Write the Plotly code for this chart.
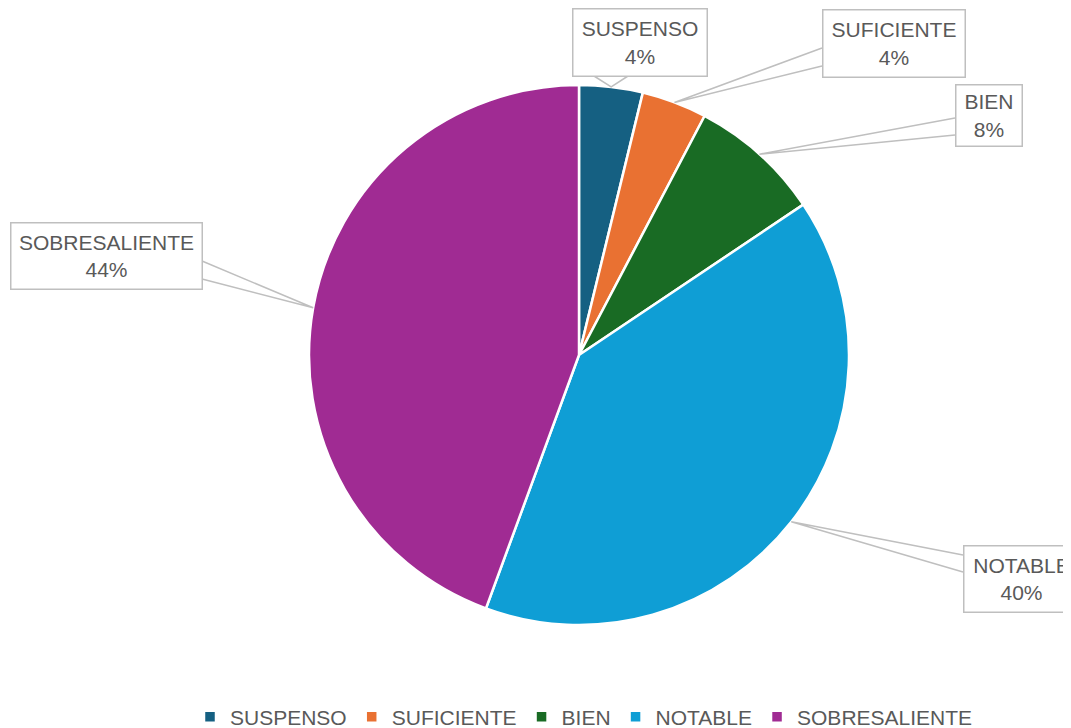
import math
import plotly.graph_objects as go

# data (shares in %)
labels = ["SUSPENSO", "SUFICIENTE", "BIEN", "NOTABLE", "SOBRESALIENTE"]
shares = [3.8, 3.9, 7.9, 40.0, 44.4]
colors = ["#156082", "#E97132", "#196B24", "#0F9ED5", "#A02B93"]

# the page body has an 8px margin, so the figure is drawn 8px in from the top-left
OFF = 8
W, H = 1071 - OFF, 728 - OFF
CX, CY, R = 579, 355, 270
TEXT = "#595959"
LINE = "#BFBFBF"
FONT = "Liberation Sans, Arial, sans-serif"

# callout boxes in screen pixels: (x0, y0, x1, y1) and the two base points of the wedge
boxes = {
    "SUSPENSO": ((572, 8, 707, 76), ((594, 76), (628, 76))),
    "SUFICIENTE": ((822, 9, 965, 77), ((822, 48), (822, 66))),
    "BIEN": ((955, 84, 1022, 146), ((955, 118), (955, 135))),
    "NOTABLE": ((963, 545, 1079, 612), ((963, 555), (963, 572))),
    "SOBRESALIENTE": ((10, 222, 202, 289), ((202, 261), (202, 279))),
}


def px(x):
    return (x - OFF) / W


def py(y):
    return 1 - (y - OFF) / H


fig = go.Figure()
fig.add_trace(go.Pie(
    labels=labels,
    values=shares,
    sort=False,
    direction="clockwise",
    rotation=0,
    marker=dict(colors=colors, line=dict(color="white", width=2.5)),
    textinfo="none",
    hoverinfo="label+percent",
    domain=dict(x=[px(CX - R), px(CX + R)], y=[py(CY + R), py(CY - R)]),
))

total = sum(shares)
cum = 0
shapes = []
annotations = []
for lab, v in zip(labels, shares):
    mid = (cum + v / 2) / total * 2 * math.pi
    cum += v
    ax = CX + R * math.sin(mid)
    ay = CY - R * math.cos(mid)
    (x0, y0, x1, y1), (b1, b2) = boxes[lab]
    shapes.append(dict(
        type="path", xref="paper", yref="paper",
        path=f"M{px(b1[0])},{py(b1[1])} L{px(ax)},{py(ay)} L{px(b2[0])},{py(b2[1])}",
        line=dict(color=LINE, width=1.5),
    ))
    annotations.append(dict(
        x=px((x0 + x1) / 2), y=py((y0 + y1) / 2), xref="paper", yref="paper",
        xanchor="center", yanchor="middle",
        width=x1 - x0 - 4, height=y1 - y0 - 4,
        text=f"{lab}<br>{round(v / total * 100)}%",
        showarrow=False, align="center",
        font=dict(family=FONT, size=21, color=TEXT),
        bgcolor="white", bordercolor=LINE, borderwidth=1.5, borderpad=1,
    ))

fig.update_layout(
    width=W, height=H,
    margin=dict(l=0, r=0, t=0, b=0, autoexpand=False),
    paper_bgcolor="white",
    plot_bgcolor="white",
    shapes=shapes,
    annotations=annotations,
    showlegend=True,
    legend=dict(
        orientation="h", x=px(584), xanchor="center", y=py(717), yanchor="middle",
        font=dict(family=FONT, size=21, color=TEXT),
        itemwidth=30, traceorder="normal",
    ),
)

fig.write_html("out.html")
